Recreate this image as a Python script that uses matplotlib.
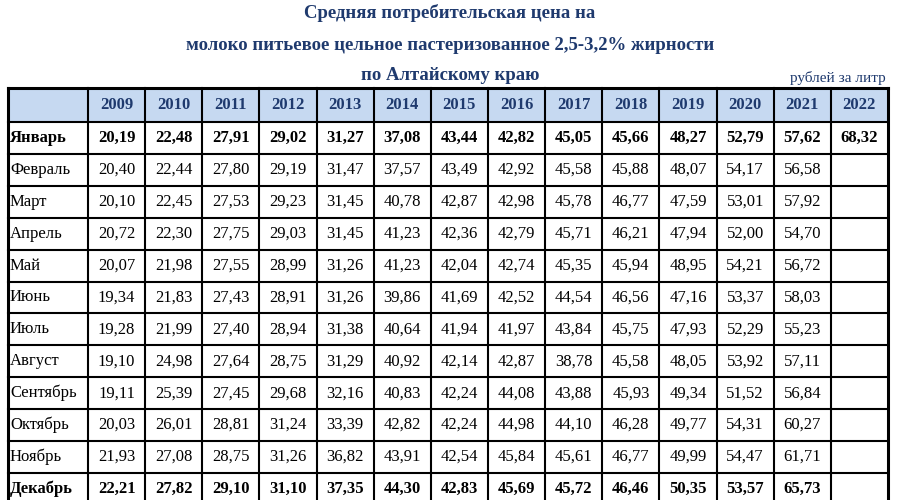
import matplotlib.pyplot as plt
from matplotlib.patches import Rectangle

years = ['2009', '2010', '2011', '2012', '2013', '2014', '2015', '2016',
         '2017', '2018', '2019', '2020', '2021', '2022']
months = ['Январь', 'Февраль', 'Март', 'Апрель', 'Май', 'Июнь', 'Июль',
          'Август', 'Сентябрь', 'Октябрь', 'Ноябрь', 'Декабрь']
prices = [
    ['20,19', '22,48', '27,91', '29,02', '31,27', '37,08', '43,44', '42,82', '45,05', '45,66', '48,27', '52,79', '57,62', '68,32'],
    ['20,40', '22,44', '27,80', '29,19', '31,47', '37,57', '43,49', '42,92', '45,58', '45,88', '48,07', '54,17', '56,58', ''],
    ['20,10', '22,45', '27,53', '29,23', '31,45', '40,78', '42,87', '42,98', '45,78', '46,77', '47,59', '53,01', '57,92', ''],
    ['20,72', '22,30', '27,75', '29,03', '31,45', '41,23', '42,36', '42,79', '45,71', '46,21', '47,94', '52,00', '54,70', ''],
    ['20,07', '21,98', '27,55', '28,99', '31,26', '41,23', '42,04', '42,74', '45,35', '45,94', '48,95', '54,21', '56,72', ''],
    ['19,34', '21,83', '27,43', '28,91', '31,26', '39,86', '41,69', '42,52', '44,54', '46,56', '47,16', '53,37', '58,03', ''],
    ['19,28', '21,99', '27,40', '28,94', '31,38', '40,64', '41,94', '41,97', '43,84', '45,75', '47,93', '52,29', '55,23', ''],
    ['19,10', '24,98', '27,64', '28,75', '31,29', '40,92', '42,14', '42,87', '38,78', '45,58', '48,05', '53,92', '57,11', ''],
    ['19,11', '25,39', '27,45', '29,68', '32,16', '40,83', '42,24', '44,08', '43,88', '45,93', '49,34', '51,52', '56,84', ''],
    ['20,03', '26,01', '28,81', '31,24', '33,39', '42,82', '42,24', '44,98', '44,10', '46,28', '49,77', '54,31', '60,27', ''],
    ['21,93', '27,08', '28,75', '31,26', '36,82', '43,91', '42,54', '45,84', '45,61', '46,77', '49,99', '54,47', '61,71', ''],
    ['22,21', '27,82', '29,10', '31,10', '37,35', '44,30', '42,83', '45,69', '45,72', '46,46', '50,35', '53,57', '65,73', ''],
]
bold_months = ['Январь', 'Декабрь']

plt.rcParams['font.family'] = ['Liberation Serif', 'DejaVu Serif']
fig = plt.figure(figsize=(9, 5), dpi=100)
ax = fig.add_axes([0, 0, 1, 1])
ax.set_xlim(0, 900)
ax.set_ylim(500, 0)
ax.axis('off')

title_color = '#1f3a6e'
ax.text(450, 13, 'Средняя потребительская цена на', ha='center', va='center',
        fontsize=13.5, fontweight='bold', color=title_color)
ax.text(450, 46, 'молоко питьевое цельное пастеризованное 2,5-3,2% жирности',
        ha='center', va='center', fontsize=13.5, fontweight='bold', color=title_color)
ax.text(450, 75, 'по Алтайскому краю', ha='center', va='center',
        fontsize=13.5, fontweight='bold', color=title_color)
ax.text(886, 78, 'рублей за литр', ha='right', va='center', fontsize=11,
        color=title_color)

x0, first_w = 8, 80
col_w = (888 - x0 - first_w) / len(years)
y0, head_h, row_h = 88, 34, 31.9

# header
ax.add_patch(Rectangle((x0, y0), 880, head_h, facecolor='#c6d9f1', edgecolor='none'))
for j, yr in enumerate(years):
    cx = x0 + first_w + col_w * (j + 0.5)
    ax.text(cx, y0 + head_h / 2, yr, ha='center', va='center', fontsize=12,
            fontweight='bold', color=title_color)

for i, m in enumerate(months):
    top = y0 + head_h + row_h * i
    cy = top + row_h / 2
    w = 'bold' if m in bold_months else 'normal'
    ax.text(x0 + 2, cy, m, ha='left', va='center', fontsize=12, fontweight=w)
    for j, v in enumerate(prices[i]):
        cx = x0 + first_w + col_w * (j + 0.5)
        ax.text(cx, cy, v, ha='center', va='center', fontsize=12, fontweight=w)

# grid lines
bottom = y0 + head_h + row_h * len(months)
xs = [x0, x0 + first_w] + [x0 + first_w + col_w * (j + 1) for j in range(len(years))]
for k, x in enumerate(xs):
    lw = 2.2 if k in (0, len(xs) - 1) else 1.5
    ax.plot([x, x], [y0, bottom], color='black', lw=lw)
ys = [y0] + [y0 + head_h + row_h * i for i in range(len(months) + 1)]
for k, y in enumerate(ys):
    lw = 2.2 if k == 0 else 1.5
    ax.plot([x0, 888], [y, y], color='black', lw=lw)

fig.savefig('out.png', dpi=100)
